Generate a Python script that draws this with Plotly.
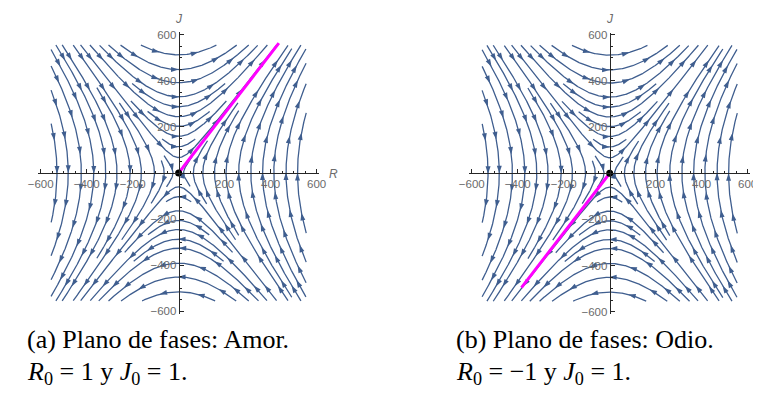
import numpy as np
import plotly.graph_objects as go

# ---------------- data ----------------
A_COEF = 0.6          # dR/dt = A_COEF * J
B_COEF = 1.0          # dJ/dt = B_COEF * R
PANEL_R0 = [1, -1]
PANEL_J0 = [1, 1]
PANEL_T_END = [8.0, 10.5]
# streamline crossings (seeds)
TOP_CROSS = [67, 114, 159, 202, 244, 287, 330, 391, 448, 512]
BOTTOM_CROSS = [-60, -103, -164, -206, -245, -287, -326, -391, -451, -515]
RIGHT_CROSS = [105, 156, 206, 261, 314, 365, 414, 467, 517]
LEFT_CROSS = [-105, -162, -211, -268, -317, -369, -423, -480, -529]
TICK_VALS = [-600, -400, -200, 200, 400, 600]
MINOR_TICK_VALS = [v for v in range(-600, 601, 50) if v % 200 != 0]
AXIS_NAMES = ["R", "J"]
CAPTION_LINE1 = ["(a) Plano de fases: Amor.", "(b) Plano de fases: Odio."]
CAPTION_LINE2 = ["<i>R</i><sub>0</sub> = 1 y <i>J</i><sub>0</sub> = 1.",
                 "<i>R</i><sub>0</sub> = \u22121 y <i>J</i><sub>0</sub> = 1."]

# ---------------- styles / geometry ----------------
W, H = 761, 394
STREAM_COLOR = "#3f5e8f"
AXIS_COLOR = "#262626"
LABEL_COLOR = "#6b6b6b"
BOX = 555.0
HALF = 610.0
PX_PER_UNIT = 0.2355
ORIGINS = [(163.5, 164.3), (605.0, 164.6)]
CAPTION_X = [7, 447]
CAPTION_FONT = "Liberation Serif"
CAPTION_SIZE = 26
CAPTION_TOP = 318          # top of the first caption line box (px)
CAPTION_LINE_H = 33.5      # box height of one caption line (px)
D_SEP = 42.0
D_TEST = 22.0
STEP = 3.0
ARROW_SPACING = 160.0


def unit_dir(x, y, sgn):
    vx, vy = A_COEF * y, B_COEF * x
    n = np.hypot(vx, vy)
    if n < 1e-9:
        return None
    return sgn * vx / n, sgn * vy / n


class Occ:
    def __init__(self, cell):
        self.cell = cell
        self.g = {}

    def key(self, x, y):
        return (int(np.floor(x / self.cell)), int(np.floor(y / self.cell)))

    def add(self, pts):
        for x, y in pts:
            self.g.setdefault(self.key(x, y), []).append((x, y))

    def near(self, x, y, d):
        ci, cj = self.key(x, y)
        d2 = d * d
        for di in (-1, 0, 1):
            for dj in (-1, 0, 1):
                for px, py in self.g.get((ci + di, cj + dj), ()):
                    if (px - x) ** 2 + (py - y) ** 2 < d2:
                        return True
        return False


def trace(seed, occ):
    halves = []
    for sgn in (1, -1):
        pts = []
        x, y = seed
        for _ in range(3000):
            d1 = unit_dir(x, y, sgn)
            if d1 is None:
                break
            xm, ym = x + 0.5 * STEP * d1[0], y + 0.5 * STEP * d1[1]
            d2 = unit_dir(xm, ym, sgn)
            if d2 is None:
                break
            nx, ny = x + STEP * d2[0], y + STEP * d2[1]
            if abs(nx) > BOX or abs(ny) > BOX:
                break
            if nx * nx + ny * ny < 15 ** 2:
                break
            if occ.near(nx, ny, D_TEST):
                break
            pts.append((nx, ny))
            x, y = nx, ny
        halves.append(pts)
    fwd, bwd = halves
    return bwd[::-1] + [tuple(seed)] + fwd


def streamlines():
    occ = Occ(D_SEP)
    lines = []
    seeds = []
    for lst in (TOP_CROSS, BOTTOM_CROSS):
        seeds += [(0.0, float(v)) for v in lst]
    for lst in (RIGHT_CROSS, LEFT_CROSS):
        seeds += [(float(v), 0.0) for v in lst]
    seeds.sort(key=lambda p: abs(p[0]) + abs(p[1]))
    queue = list(seeds)
    qi = 0
    while qi < len(queue):
        s = queue[qi]
        qi += 1
        if abs(s[0]) > BOX or abs(s[1]) > BOX:
            continue
        if occ.near(s[0], s[1], D_SEP * 0.8):
            continue
        line = trace(s, occ)
        arr = np.array(line)
        seglen = np.hypot(*np.diff(arr, axis=0).T).sum() if len(arr) > 1 else 0
        if seglen < 50:
            continue
        occ.add(line)
        lines.append(arr)
        for i in range(0, len(arr) - 1, 8):
            dx, dy = arr[i + 1] - arr[i]
            n = np.hypot(dx, dy)
            if n == 0:
                continue
            nxp, nyp = -dy / n, dx / n
            for sg in (1, -1):
                queue.append((arr[i][0] + sg * D_SEP * nxp, arr[i][1] + sg * D_SEP * nyp))
    return lines


LINES = streamlines()


def arrows(lines):
    xs, ys, angs = [], [], []
    for arr in lines:
        d = np.hypot(*np.diff(arr, axis=0).T)
        s = np.concatenate([[0], np.cumsum(d)])
        S = s[-1]
        n = max(1, int(round(S / ARROW_SPACING)))
        for k in range(n):
            target = (k + 0.5) * S / n
            i = int(np.searchsorted(s, target))
            i = min(max(i, 1), len(arr) - 1)
            dx, dy = arr[i] - arr[i - 1]
            xs.append(arr[i][0]); ys.append(arr[i][1])
            angs.append(float(np.degrees(np.arctan2(dx, dy))))
    return xs, ys, angs


AX, AY, AANG = arrows(LINES)

LX, LY = [], []
for arr in LINES:
    LX += list(arr[:, 0]) + [None]
    LY += list(arr[:, 1]) + [None]


def trajectory(r0, j0, tend):
    w = np.sqrt(A_COEF * B_COEF)
    t = np.linspace(0, tend, 400)
    R = r0 * np.cosh(w * t) + A_COEF * j0 / w * np.sinh(w * t)
    J = j0 * np.cosh(w * t) + B_COEF * r0 / w * np.sinh(w * t)
    return R, J


fig = go.Figure()
half_px = HALF * PX_PER_UNIT
annotations = []
for p in range(2):
    ox, oy = ORIGINS[p]
    sfx = "" if p == 0 else str(p + 1)
    xa, ya = "x" + sfx, "y" + sfx
    fig.add_trace(go.Scatter(x=LX, y=LY, mode="lines", xaxis=xa, yaxis=ya,
                             line=dict(color=STREAM_COLOR, width=1.3),
                             hoverinfo="skip", showlegend=False))
    fig.add_trace(go.Scatter(x=AX, y=AY, mode="markers", xaxis=xa, yaxis=ya,
                             marker=dict(symbol="arrow", size=8, angle=AANG,
                                         color=STREAM_COLOR, line=dict(width=0)),
                             hoverinfo="skip", showlegend=False))
    R, J = trajectory(PANEL_R0[p], PANEL_J0[p], PANEL_T_END[p])
    fig.add_trace(go.Scatter(x=R, y=J, mode="lines", xaxis=xa, yaxis=ya,
                             line=dict(color="#ff00ff", width=3),
                             hoverinfo="skip", showlegend=False))
    fig.add_trace(go.Scatter(x=[0], y=[0], mode="markers", xaxis=xa, yaxis=ya,
                             marker=dict(color="black", size=7),
                             hoverinfo="skip", showlegend=False))
    xdom = [(ox - half_px) / W, (ox + half_px) / W]
    ydom = [(H - oy - half_px) / H, (H - oy + half_px) / H]
    common = dict(range=[-HALF, HALF], showgrid=False, zeroline=False,
                  showline=True, linecolor=AXIS_COLOR, linewidth=1,
                  ticks="inside", ticklen=4, tickcolor=AXIS_COLOR, tickwidth=1,
                  tickmode="array", tickvals=TICK_VALS,
                  tickfont=dict(family="Liberation Sans", size=11.5, color=LABEL_COLOR),
                  minor=dict(tickmode="array", tickvals=MINOR_TICK_VALS, ticks="inside",
                             ticklen=2, tickcolor=AXIS_COLOR, tickwidth=1),
                  fixedrange=True)
    fig.update_layout(**{
        "xaxis" + sfx: dict(domain=xdom, anchor="free", position=(H - oy) / H,
                            side="bottom", **common),
        "yaxis" + sfx: dict(domain=ydom, anchor="free", position=ox / W,
                            side="left", **common),
    })
    # axis names (paper coordinates so they are not hidden outside the range)
    annotations.append(dict(xref="paper", yref="paper", x=(ox + 152) / W, y=1 - (oy + 1.5) / H,
                            text="<i>%s</i>" % AXIS_NAMES[0], showarrow=False,
                            xanchor="left", yanchor="middle",
                            font=dict(family="Liberation Sans", size=12, color=LABEL_COLOR)))
    annotations.append(dict(xref="paper", yref="paper", x=ox / W, y=1 - 7 / H,
                            text="<i>%s</i>" % AXIS_NAMES[1], showarrow=False,
                            xanchor="center", yanchor="middle",
                            font=dict(family="Liberation Sans", size=12, color=LABEL_COLOR)))
    for li, txt in enumerate([CAPTION_LINE1[p], CAPTION_LINE2[p]]):
        annotations.append(dict(xref="paper", yref="paper", x=CAPTION_X[p] / W,
                                y=1 - (CAPTION_TOP + li * CAPTION_LINE_H) / H,
                                text=txt, showarrow=False, xanchor="left", yanchor="top",
                                borderpad=0,
                                font=dict(family=CAPTION_FONT, size=CAPTION_SIZE,
                                          color="black")))

fig.update_layout(width=W, height=H, margin=dict(l=0, r=0, t=0, b=0),
                  autosize=False, paper_bgcolor="white", plot_bgcolor="white",
                  showlegend=False, annotations=annotations)
fig.write_html("out.html")
